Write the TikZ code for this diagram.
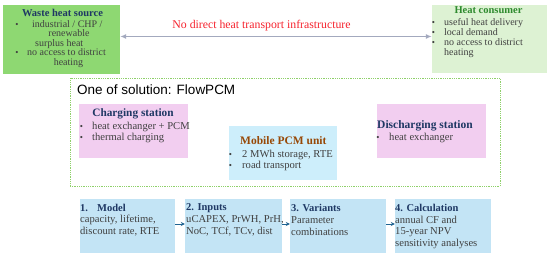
\documentclass[tikz,border=0pt]{standalone}
\usepackage{fontspec}
\setmainfont{Liberation Serif}
\newfontfamily\titlesans{Liberation Sans}
\usetikzlibrary{arrows.meta}
\definecolor{navy}{HTML}{1F3864}
\definecolor{bodygray}{HTML}{404040}
\definecolor{wastegreen}{HTML}{8ED872}
\definecolor{consgreen}{HTML}{DDF2D3}
\definecolor{consgreentxt}{HTML}{2E8B2E}
\definecolor{pinkbox}{HTML}{F2CEF0}
\definecolor{mobileblue}{HTML}{CDEEFB}
\definecolor{stepblue}{HTML}{C3E4F5}
\definecolor{arrowgray}{HTML}{A3A9BE}
\definecolor{darkblue}{HTML}{1F6391}
\definecolor{dotgreen}{HTML}{8FD06A}
\definecolor{brown}{HTML}{974806}
\definecolor{redtxt}{HTML}{F5222D}
\begin{document}
\begin{tikzpicture}[x=1pt,y=-1pt,
  box/.style={draw=none,inner sep=0pt},
  tl/.style={anchor=west,inner sep=0pt,font=\fontsize{10.6}{12}\selectfont,text=bodygray},
  tc/.style={inner sep=0pt,font=\fontsize{10.6}{12}\selectfont,text=bodygray},
  hd/.style={inner sep=0pt,font=\fontsize{10.5}{12}\selectfont\bfseries,text=navy},
  bul/.style={inner sep=0pt,font=\fontsize{9}{12}\selectfont,text=bodygray},
  tight/.style={font=\fontsize{10}{11}\selectfont,text height=6.4pt,text depth=1.6pt},
  grayarrow/.style={draw=arrowgray,line width=1.4pt,{Latex[length=6pt,width=5pt]}-{Latex[length=6pt,width=5pt]}},
  stepline/.style={draw=darkblue,line width=0.9pt,-{Stealth[length=4pt,width=4pt]}}]
\useasboundingbox (0,0) rectangle (550,261);

% top boxes
\node[box,fill=wastegreen,minimum width=117pt,minimum height=69pt] (waste) at (61.5,39.5) {};
\node[box,fill=consgreen,minimum width=115pt,minimum height=68pt] (cons) at (489.5,39) {};
\draw[grayarrow] ([yshift=3pt]waste.east) -- ([yshift=2.5pt]cons.west);
\node[inner sep=0pt,font=\fontsize{11.8}{13}\selectfont,text=redtxt] (nodirect) at (261.5,26) {No direct heat transport infrastructure};

% waste text
\node[hd,tight,font=\fontsize{10.5}{12}\selectfont\bfseries] (wt) at (62.5,14) {Waste heat source};
\node[bul] (wb1) at (17,25) {\textbullet};
\node[tl,tight] (w1) at (32,25) {industrial / CHP /};
\node[tc,tight] (w2) at (69,34.5) {renewable};
\node[tl,tight] (w3) at (35,44) {surplus heat};
\node[bul] (wb2) at (17,53.5) {\textbullet};
\node[tl,tight] (w4) at (27,53.5) {no access to district};
\node[tc,tight] (w5) at (68.5,63) {heating};

% consumer text
\node[hd,tight,font=\fontsize{10.5}{12}\selectfont\bfseries,text=consgreentxt] (ct) at (488.5,11.5) {Heat consumer};
\node[bul] (cb1) at (433.5,23) {\textbullet};
\node[tl,tight] (c1) at (444,23) {useful heat delivery};
\node[bul] (cb2) at (433.5,33) {\textbullet};
\node[tl,tight] (c2) at (444,33) {local demand};
\node[bul] (cb3) at (433.5,43) {\textbullet};
\node[tl,tight] (c3) at (444,43) {no access to district};
\node[tl,tight] (c4) at (444,53) {heating};

% dotted frame
\node[draw=dotgreen,densely dotted,line width=0.8pt,minimum width=430pt,minimum height=108pt,inner sep=0pt] (frame) at (285,132) {};
\node[anchor=west,inner sep=0pt,font=\titlesans\fontsize{13.5}{15}\selectfont] (ftitle) at (77,90) {One of solution: FlowPCM};

% solution boxes
\node[box,fill=pinkbox,minimum width=109pt,minimum height=54pt] (charge) at (133.5,131) {};
\node[box,fill=mobileblue,minimum width=108pt,minimum height=54pt] (mobile) at (283,153) {};
\node[box,fill=pinkbox,minimum width=109pt,minimum height=54pt] (discharge) at (431.5,131) {};

\node[hd,font=\fontsize{11.3}{13}\selectfont\bfseries] (cht) at (133,114) {Charging station};
\node[bul] (chb1) at (81.5,127) {\textbullet};
\node[tl] (ch1) at (92,127) {heat exchanger + PCM};
\node[bul] (chb2) at (81.5,138) {\textbullet};
\node[tl] (ch2) at (92,138) {thermal charging};

\node[hd,anchor=west,font=\fontsize{11.5}{13}\selectfont\bfseries,text=brown] (mt) at (240,141) {Mobile PCM unit};
\node[bul] (mb1) at (230.5,155) {\textbullet};
\node[tl] (m1) at (242,155) {2 MWh storage, RTE};
\node[bul] (mb2) at (230.5,166) {\textbullet};
\node[tl] (m2) at (242,166) {road transport};

\node[hd,anchor=west,font=\fontsize{11.5}{13}\selectfont\bfseries] (dt) at (377,126) {Discharging station};
\node[bul] (db1) at (378,138) {\textbullet};
\node[tl] (d1) at (389,138) {heat exchanger};

% bottom steps
\node[box,fill=stepblue,minimum width=95pt,minimum height=54pt] (s1) at (127.5,226) {};
\node[box,fill=stepblue,minimum width=97pt,minimum height=54pt] (s2) at (233.5,226) {};
\node[box,fill=stepblue,minimum width=96pt,minimum height=54pt] (s3) at (338,226) {};
\node[box,fill=stepblue,minimum width=96pt,minimum height=54pt] (s4) at (443,226) {};
\draw[stepline] ([yshift=2pt]s1.east) -- ([yshift=2pt]s2.west);
\draw[stepline] ([yshift=2pt]s2.east) -- ([yshift=2pt]s3.west);
\draw[stepline] ([yshift=2pt]s3.east) -- ([yshift=2pt]s4.west);

\node[hd,anchor=west] (s1h) at (80,208) {1.};
\node[hd,anchor=west] (s1m) at (97,208) {Model};
\node[tl] (s1a) at (80,220) {capacity, lifetime,};
\node[tl] (s1b) at (80,232) {discount rate, RTE};

\node[hd,anchor=west] (s2h) at (186,208) {2. Inputs};
\node[tl] (s2a) at (186,220) {uCAPEX, PrWH, PrH,};
\node[tl] (s2b) at (186,232) {NoC, TCf, TCv, dist};

\node[hd,anchor=west] (s3h) at (291,208) {3. Variants};
\node[tl] (s3a) at (291,220) {Parameter};
\node[tl] (s3b) at (291,232) {combinations};

\node[hd,anchor=west] (s4h) at (395,208) {4. Calculation};
\node[tl] (s4a) at (395,220) {annual CF and};
\node[tl] (s4b) at (395,232) {15-year NPV};
\node[tl] (s4c) at (395,243.5) {sensitivity analyses};
\end{tikzpicture}
\end{document}
